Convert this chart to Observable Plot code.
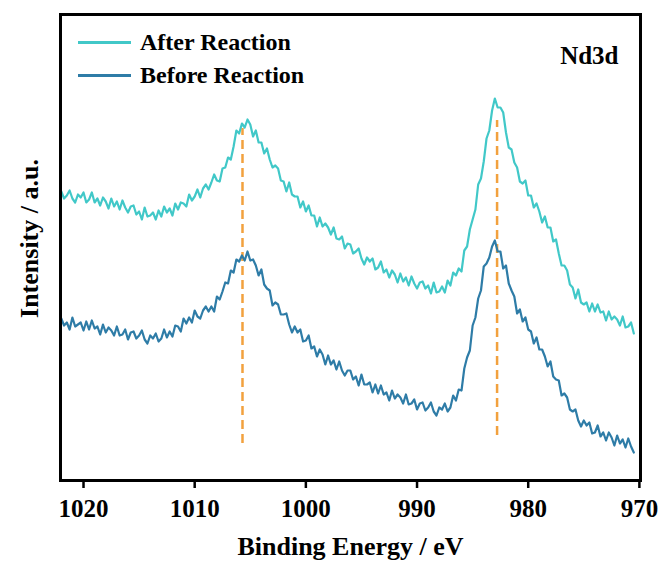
<!DOCTYPE html>
<html>
<head>
<meta charset="utf-8">
<script src="https://cdn.jsdelivr.net/npm/d3@7"></script>
<script src="https://cdn.jsdelivr.net/npm/@observablehq/plot@0.6"></script>
<style>
  html, body { margin: 0; padding: 0; background: #fff; }
  #wrap { position: relative; width: 660px; height: 561px; overflow: hidden; font-family: "Liberation Serif", "Times New Roman", serif; }
  .leg { position: absolute; left: 78px; display: flex; align-items: center; font-weight: bold; font-size: 24px; color: #000; white-space: nowrap; }
  .leg .sw { width: 53px; height: 3px; margin-right: 9px; }
</style>
</head>
<body>
<div id="wrap"></div>
<script>
// Binding energy grid (eV): first point and step of the spectrum sampling
const energyStart = 1022.0;
const energyStep = 0.25;

// Intensity (a.u.), one value per grid point
const afterReaction = [
  289,282,285,290, 282,278,286,283, 288,278,281,288, 278,282,275,283,
  279,272,282,274, 279,271,280,273, 268,274,275,266, 269,261,273,264,
  265,268,261,270, 264,274,268,272, 265,277,271,278, 277,274,286,280,
  284,291,283,292, 296,291,298,306, 300,299,312,313, 323,321,334,350,
  347,357,353,361, 356,344,350,338, 338,327,332,321, 313,315,312,300,
  299,289,298,286, 284,284,273,279, 269,275,265,265, 254,263,254,257,
  253,246,253,242, 241,244,232,237, 236,227,229,232, 222,216,223,219,
  222,211,213,219, 208,211,203,210, 206,198,207,199, 203,195,204,197,
  192,198,199,192, 195,187,198,188, 189,194,188,200, 195,208,205,212,
  209,230,234,251, 261,271,296,302, 319,342,350,370, 382,373,373,368,
  348,333,331,318, 313,299,297,300, 285,285,273,277, 269,258,264,253,
  253,239,241,227, 215,215,210,196, 193,182,191,178, 176,178,169,177,
  169,176,168,169, 160,169,161,164, 161,155,164,153, 154,158,147
];
const beforeReaction = [
  162,155,158,151, 163,154,156,158, 150,159,151,160, 152,154,146,156,
  148,153,150,145, 154,145,146,151, 141,148,149,142, 145,150,141,137,
  145,142,147,139, 142,151,143,149, 144,155,154,149, 162,157,163,158,
  170,164,162,170, 174,169,174,169, 184,181,189,198, 197,210,208,221,
  219,225,220,229, 220,221,215,205, 211,196,192,190, 175,178,176,166,
  166,167,156,148, 154,148,151,139, 140,145,132,134, 124,131,126,116,
  125,116,120,111, 119,110,105,110, 110,101,104,95, 106,96,96,98,
  88,96,87,95, 86,88,80,90, 82,86,83,77, 86,76,77,81,
  71,77,78,70, 73,78,69,65, 73,71,77,69, 73,85,80,91,
  90,112,123,130, 155,163,182,190, 214,217,223,234, 240,229,229,212,
  215,197,190,184, 167,171,159,163, 151,149,137,143, 131,131,124,114,
  119,104,101,100, 85,87,83,71, 69,71,60,54, 60,55,58,47,
  48,55,44,48, 40,48,43,35, 45,37,41,33, 42,34,28
];

// Peak markers (dashed guides)
const peakEnergies = [1005.7, 982.8];
const peakTop = [352, 360];
const peakBottom = [37, 45];

// Axis ticks
const xTicks = [1020, 1010, 1000, 990, 980, 970];

const seriesNames = ["After Reaction", "Before Reaction"];
const seriesColors = ["#41c8c8", "#2e7ca7"];
const peakColor = "#f2a13e";

const rows = [];
afterReaction.forEach((v, i) => rows.push({series: seriesNames[0], energy: energyStart - i * energyStep, intensity: v}));
beforeReaction.forEach((v, i) => rows.push({series: seriesNames[1], energy: energyStart - i * energyStep, intensity: v}));
const peaks = peakEnergies.map((e, i) => ({energy: e, top: peakTop[i], bottom: peakBottom[i]}));

const serif = "Liberation Serif, Times New Roman, serif";

const chart = Plot.plot({
  width: 660,
  height: 561,
  marginLeft: 60,
  marginRight: 20,
  marginTop: 14,
  marginBottom: 81,
  style: {fontFamily: serif, background: "#fff", color: "#000"},
  x: {domain: [1022.07, 969.9]},
  y: {domain: [0, 466], axis: null},
  color: {domain: seriesNames, range: seriesColors},
  marks: [
    Plot.ruleX(peaks, {x: "energy", y1: "bottom", y2: "top", stroke: peakColor, strokeWidth: 2.5, strokeDasharray: "9,5"}),
    Plot.line(rows, {x: "energy", y: "intensity", z: "series", stroke: "series", strokeWidth: 2.2, strokeLinejoin: "round"}),
    Plot.frame({stroke: "#000", strokeWidth: 3}),
    Plot.axisX({ticks: xTicks, tickSize: 8, tickPadding: 11, tickFormat: d => String(d), fontSize: 25, fontWeight: "bold", strokeWidth: 2.5, label: null}),
    Plot.text(["Binding Energy / eV"], {frameAnchor: "bottom", textAnchor: "middle", lineAnchor: "bottom", dy: 74, fontSize: 26, fontWeight: "bold", fill: "#000"}),
    Plot.text(["Intensity / a.u."], {frameAnchor: "left", textAnchor: "middle", rotate: -90, lineAnchor: "bottom", dx: -23, dy: -9, fontSize: 26, fontWeight: "bold", fill: "#000"}),
    Plot.text(["Nd3d"], {frameAnchor: "top-right", textAnchor: "end", lineAnchor: "bottom", dx: -22, dy: 49, fontSize: 25, fontWeight: "bold", fill: "#000"})
  ]
});

const wrap = document.getElementById("wrap");
wrap.appendChild(chart);

// Legend (inside the frame, top-left)
const legendTops = [29, 62];
seriesNames.forEach((name, i) => {
  const item = document.createElement("div");
  item.className = "leg";
  item.style.top = legendTops[i] + "px";
  const sw = document.createElement("span");
  sw.className = "sw";
  sw.style.background = seriesColors[i];
  const label = document.createElement("span");
  label.textContent = name;
  item.appendChild(sw);
  item.appendChild(label);
  wrap.appendChild(item);
});
</script>
</body>
</html>
